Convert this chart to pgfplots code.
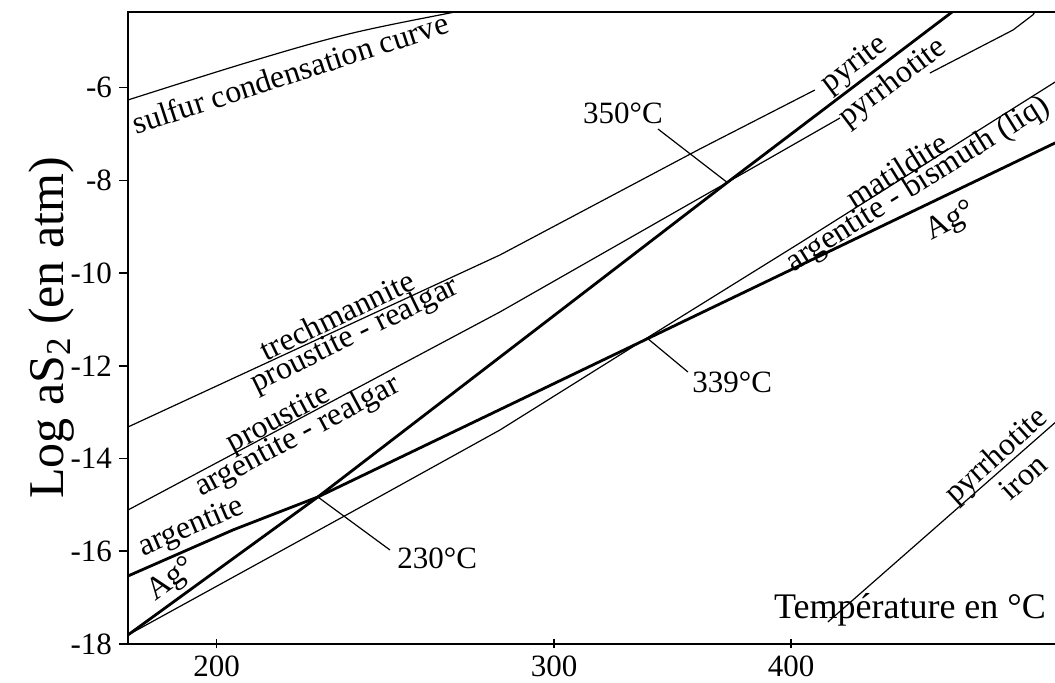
\documentclass[border=0pt]{standalone}
\usepackage{pgfplots}
\pgfplotsset{compat=1.18}
\usepackage{fontspec}
\setmainfont{Liberation Serif}

\newcommand{\lbl}{\fontsize{16}{18}\selectfont}
\tikzset{
  thinl/.style={black, line width=0.6pt},
  thickl/.style={black, line width=1.4pt},
}

\begin{document}
\begin{tikzpicture}
\begin{axis}[
  name=ax,
  at={(0pt,0pt)}, anchor=south west,
  width=466pt, height=316pt, scale only axis,
  x coord trafo/.code={\pgfmathparse{-1000/(#1+273.15)}},
  x coord inv trafo/.code={\pgfmathparse{-1000/#1-273.15}},
  xmin=179.26, xmax=565.92,
  ymin=-18, ymax=-4.367,
  xtick={200,300,400}, xticklabels={200,300,400},
  ytick={-18,-16,-14,-12,-10,-8,-6},
  yticklabels={-18,-16,-14,-12,-10,-8,-6},
  xtick pos=left, ytick pos=left,
  xtick align=center, ytick align=outside,
  major tick length=4.5pt,
  tick style={black, line width=0.8pt},
  axis line style={line width=1pt},
  tick label style={font=\fontsize{15.5}{17}\selectfont},
  every axis y label/.style={at={(axis description cs:-0.082,0.5)}, rotate=90, anchor=center},
  ylabel={Log aS\textsubscript{2} (en atm)},
  ylabel style={font=\fontsize{25}{28}\selectfont},
  clip mode=individual,
]
% sulfur condensation curve
\addplot[thinl, smooth, tension=0.6] coordinates {(179.26,-6.265) (208.29,-5.440) (235.03,-4.835) (266.48,-4.367) (272,-4.29)};
% trechmannite / proustite-realgar
\addplot[thinl] coordinates {(179.26,-13.319) (281.20,-9.609) (357.64,-7.322) (411.97,-6.050)};
% proustite / argentite-realgar
\addplot[thinl] coordinates {(179.26,-15.110) (281.20,-10.838) (370.06,-8.034) (425.03,-6.654)};
\addplot[thinl] coordinates {(476.53,-5.683) (531.23,-4.755) (545.58,-4.43) (548.5,-4.30)};
% matildite / argentite-bismuth(liq)
\addplot[thinl] coordinates {(179.26,-17.805) (235.03,-15.174) (281.20,-13.384) (335.42,-11.399) (404.36,-9.350) (566,-5.81)};
% pyrrhotite / iron
\addplot[thinl] coordinates {(418.70,-17.525) (566,-13.13)};
% argentite / Ag
\addplot[thickl] coordinates {(179.26,-16.533) (204.02,-15.541) (226.15,-14.829) (566,-7.14)};
% pyrite / pyrrhotite
\addplot[thickl] coordinates {(179.26,-17.805) (226.15,-14.829) (370.06,-8.034) (493,-4.30)};
% leader lines
\addplot[thinl] coordinates {(226.15,-14.829) (246.57,-15.972)};
\addplot[thinl] coordinates {(335.42,-11.399) (352.48,-12.133)};
\addplot[thinl] coordinates {(339.90,-6.891) (370.06,-8.056)};

\node[rotate=18, font=\lbl] at (axis cs:218.64,-5.683) {sulfur condensation curve};
\node[rotate=26, font=\lbl] at (axis cs:231.39,-10.903) {trechmannite};
\node[rotate=26, font=\lbl] at (axis cs:236.43,-11.356) {proustite - realgar};
\node[rotate=28, font=\lbl] at (axis cs:215.75,-13.168) {proustite};
\node[rotate=28, font=\lbl] at (axis cs:220.77,-13.535) {argentite - realgar};
\node[rotate=23, font=\lbl] at (axis cs:194.03,-15.497) {argentite};
\node[rotate=36, font=\lbl] at (axis cs:189.30,-16.619) {Ag°};
\node[rotate=37, font=\lbl] at (axis cs:433.11,-5.510) {pyrite};
\node[rotate=37, font=\lbl] at (axis cs:454.44,-5.899) {pyrrhotite};
\node[rotate=32, font=\lbl] at (axis cs:456.78,-7.775) {matildite};
\node[rotate=32, font=\lbl] at (axis cs:469.24,-8.099) {argentite - bismuth (liq)};
\node[rotate=27, font=\lbl] at (axis cs:489.63,-8.897) {Ag°};
\node[rotate=42, font=\lbl] at (axis cs:520.06,-13.966) {pyrrhotite};
\node[rotate=42, font=\lbl] at (axis cs:538.34,-14.397) {iron};
\node[font=\fontsize{18}{20}\selectfont] at (axis cs:464.42,-17.266) {Température en °C};
\node[anchor=west, font=\fontsize{15.5}{17}\selectfont, inner sep=1pt] at (axis cs:248.06,-16.144) {230°C};
\node[anchor=west, font=\fontsize{15.5}{17}\selectfont, inner sep=1pt] at (axis cs:353.34,-12.348) {339°C};
\node[font=\fontsize{15.5}{17}\selectfont] at (axis cs:325.83,-6.546) {350°C};
\end{axis}
\pgfresetboundingbox
\path (-64pt,-19.5pt) rectangle (463.5pt,322pt);
\end{tikzpicture}
\end{document}
